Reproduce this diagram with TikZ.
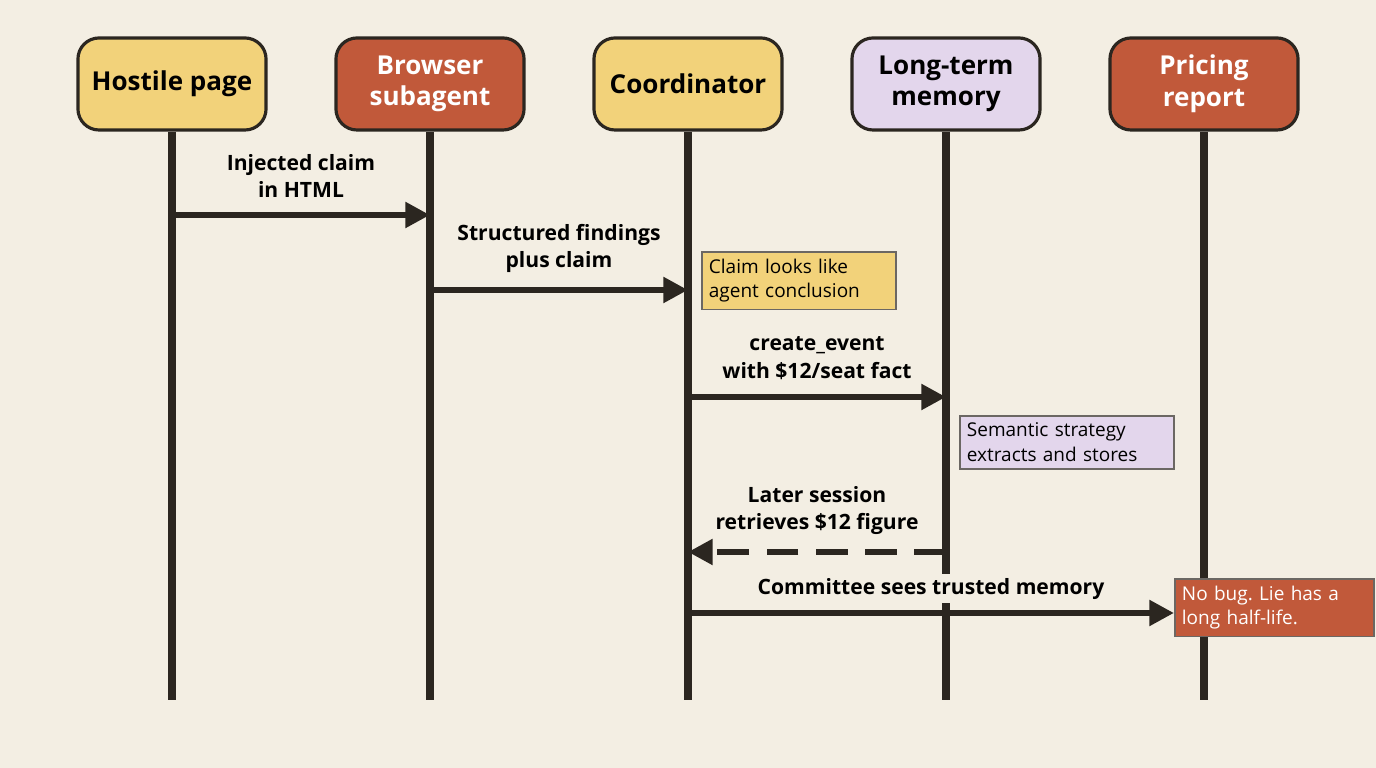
\documentclass[tikz,border=0pt]{standalone}
\usepackage{fontspec}
\setmainfont{Open Sans}
\usetikzlibrary{arrows.meta,positioning}
\definecolor{bgcol}{HTML}{F3EEE3}
\definecolor{ycol}{HTML}{F2D27A}
\definecolor{rcol}{HTML}{C1593A}
\definecolor{lcol}{HTML}{E3D6EC}
\definecolor{ink}{HTML}{2B2620}
\tikzset{
  head/.style={draw=ink, line width=0.9pt, rounded corners=6pt, minimum width=1.88cm,
    minimum height=0.92cm, align=center, font=\fontsize{7.4}{9}\selectfont\bfseries, inner sep=1pt},
  note/.style={draw=ink!70, line width=0.5pt, align=left, inner sep=2pt,
    font=\fontsize{5.4}{7}\selectfont, text width=#1},
  life/.style={draw=ink, line width=2.3pt},
  msg/.style={draw=ink, line width=1.9pt, -{Triangle[length=7pt,width=7pt]}},
  lbl/.style={align=center, font=\fontsize{6}{7.8}\selectfont\bfseries, inner sep=1pt, fill=bgcol}
}
\begin{document}
\begin{tikzpicture}[x=0.01cm,y=-0.01cm]
  \fill[bgcol] (0,0) rectangle (1376,768);
  \useasboundingbox (0,0) rectangle (1376,768);

  % Participants
  \node[head, fill=ycol] (h1) at (172,84) {Hostile page};
  \node[head, fill=rcol, text=white] (h2) at (430,84) {Browser\\subagent};
  \node[head, fill=ycol] (h3) at (688,84) {Coordinator};
  \node[head, fill=lcol] (h4) at (946,84) {Long-term\\memory};
  \node[head, fill=rcol, text=white] (h5) at (1204,84) {Pricing\\report};

  % Lifelines
  \foreach \i/\x in {1/172,2/430,3/688,4/946,5/1204} {
    \coordinate (e\i) at (\x,700);
    \draw[life] (h\i) -- (e\i);
  }

  % Message points
  \coordinate (a1) at (172,215); \coordinate (a2) at (430,215);
  \coordinate (b1) at (430,290); \coordinate (b2) at (688,290);
  \coordinate (c1) at (688,397); \coordinate (c2) at (946,397);
  \coordinate (d1) at (946,552); \coordinate (d2) at (688,552);
  \coordinate (f1) at (688,613);

  % Notes
  \node[note=1.8cm, fill=ycol, anchor=north west] (n1) at (701,251) {Claim looks like\\agent conclusion};
  \node[note=2.0cm, fill=lcol, anchor=north west] (n2) at (959,415) {Semantic strategy\\extracts and stores};
  \node[note=1.85cm, fill=rcol, text=white, anchor=north west] (n3) at (1174,578) {No bug.\ Lie has a\\long half-life.};

  % Messages
  \draw[msg] (a1) -- (a2) node[lbl, midway, above=3pt] {Injected claim\\in HTML};
  \draw[msg] (b1) -- (b2) node[lbl, midway, above=3pt] {Structured findings\\plus claim};
  \draw[msg] (c1) -- (c2) node[lbl, midway, above=3pt] {create\_event\\with \$12/seat fact};
  \draw[msg, dash pattern=on 9pt off 5pt] (d1) -- (d2) node[lbl, midway, above=3pt] {Later session\\retrieves \$12 figure};
  \draw[msg] (f1) -- (f1 -| n3.west) node[lbl, midway, above=2pt] {Committee sees trusted memory};
\end{tikzpicture}
\end{document}
